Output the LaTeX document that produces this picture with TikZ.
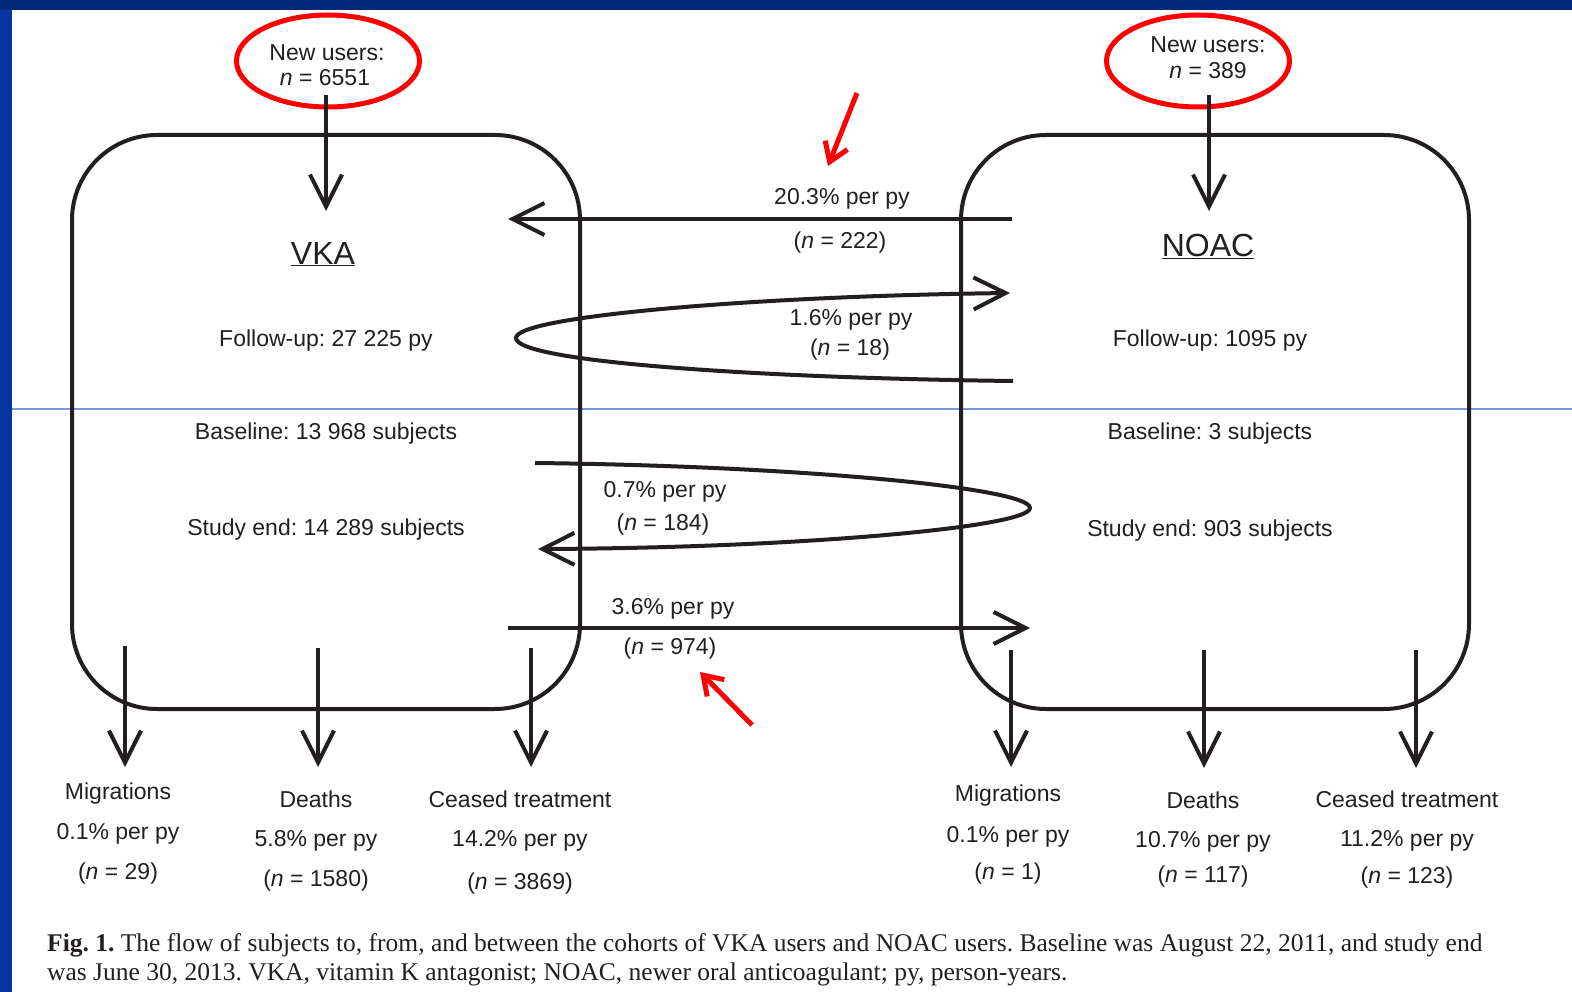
\documentclass[tikz,border=0pt]{standalone}
\usepackage{fontspec}
\setmainfont{Liberation Sans}
\newfontfamily\capfont{Liberation Serif}
\usetikzlibrary{arrows.meta,shapes.geometric}
\definecolor{ink}{HTML}{231F20}
\definecolor{frametop}{HTML}{00297A}
\definecolor{frameleft}{HTML}{0536A0}
\definecolor{ruleblue}{HTML}{7A9AE0}
\definecolor{annot}{HTML}{FF0000}
\begin{document}
\frenchspacing
\begin{tikzpicture}[x=1pt,y=-1pt,
  txt/.style={font=\fontsize{23}{27}\selectfont, text=ink, inner sep=0pt, yshift=-3pt},
  big/.style={font=\fontsize{32}{36}\selectfont, text=ink, inner sep=0pt, yshift=-2pt},
  cohort/.style={draw=ink, line width=4pt, rounded corners=85pt, minimum width=508pt, minimum height=574pt, inner sep=0pt},
  newusers/.style={ellipse, draw=annot, line width=5pt, minimum width=183pt, minimum height=92pt, inner sep=0pt},
  flow/.style={draw=ink, line width=4pt, -{Straight Barb[length=32pt,width=32pt]}},
  redmark/.style={draw=annot, line width=5pt, -{Straight Barb[length=18pt,width=24pt]}},
  caption/.style={font=\capfont\fontsize{25.5}{29}\selectfont, text=ink, inner sep=0pt, anchor=base west}
]
\useasboundingbox (0,0) rectangle (1572,992);
\fill[white] (0,0) rectangle (1572,992);
% frame
\fill[frameleft] (0,0) rectangle (12,992);
\fill[frametop] (0,0) rectangle (1572,10);
\draw[ruleblue, line width=1.3pt] (12,409) -- (1572,409);

% cohort boxes
\node[cohort] (vka) at (326,422) {};
\node[cohort] (noac) at (1215,422) {};

% new users
\node[newusers] (nu1) at (328,61) {};
\node[newusers] (nu2) at (1198,61) {};
\node[txt] (nu1a) at (327,50) {New users:};
\node[txt] (nu1b) at (325,75) {\textit{n} = 6551};
\node[txt] (nu2a) at (1208,42) {New users:};
\node[txt] (nu2b) at (1208,68) {\textit{n} = 389};

\coordinate (in1s) at (326,95);
\coordinate (in1e) at (326,211);
\coordinate (in2s) at (1209,95);
\coordinate (in2e) at (1209,211);
\draw[flow] (in1s) -- (in1e);
\draw[flow] (in2s) -- (in2e);

% box texts
\node[big] (vkat) at (323,252) {\underline{VKA}};
\node[txt] (vkaf) at (326,338) {Follow-up: 27 225 py};
\node[txt] (vkab) at (326,431) {Baseline: 13 968 subjects};
\node[txt] (vkae) at (326,527) {Study end: 14 289 subjects};
\node[big] (noact) at (1208,244) {\underline{NOAC}};
\node[txt] (noacf) at (1210,338) {Follow-up: 1095 py};
\node[txt] (noacb) at (1210,431) {Baseline: 3 subjects};
\node[txt] (noace) at (1210,528) {Study end: 903 subjects};

% switching flows
\coordinate (f1s) at (1012,219);
\coordinate (f1e) at (508,219);
\draw[flow] (f1s) -- (f1e);
\node[txt] (f1a) at (842,196) {20.3\% per py};
\node[txt] (f1b) at (840,240) {(\textit{n} = 222)};

\coordinate (f2s) at (1013,381);
\coordinate (f2m) at (516,338);
\coordinate (f2e) at (1010,293);
\draw[flow] (f2s) .. controls (760,378) and (516,362) .. (f2m) .. controls (516,316) and (760,296) .. (f2e);
\node[txt] (f2a) at (851,317) {1.6\% per py};
\node[txt] (f2b) at (850,347) {(\textit{n} = 18)};

\coordinate (f3s) at (535,463);
\coordinate (f3m) at (1030,508);
\coordinate (f3e) at (538,549);
\draw[flow] (f3s) .. controls (800,466) and (1030,488) .. (f3m) .. controls (1030,527) and (800,548) .. (f3e);
\node[txt] (f3a) at (665,489) {0.7\% per py};
\node[txt] (f3b) at (663,522) {(\textit{n} = 184)};

\coordinate (f4s) at (508,628);
\coordinate (f4e) at (1030,628);
\draw[flow] (f4s) -- (f4e);
\node[txt] (f4a) at (673,606) {3.6\% per py};
\node[txt] (f4b) at (670,646) {(\textit{n} = 974)};

% outflows VKA
\coordinate (o1s) at (125,646); \coordinate (o1e) at (125,767);
\coordinate (o2s) at (318,648); \coordinate (o2e) at (318,767);
\coordinate (o3s) at (531,648); \coordinate (o3e) at (531,767);
\draw[flow] (o1s) -- (o1e);
\draw[flow] (o2s) -- (o2e);
\draw[flow] (o3s) -- (o3e);
\node[txt] (m1a) at (118,791) {Migrations};
\node[txt] (m1b) at (118,831) {0.1\% per py};
\node[txt] (m1c) at (118,871) {(\textit{n} = 29)};
\node[txt] (d1a) at (316,796) {Deaths};
\node[txt] (d1b) at (316,838) {5.8\% per py};
\node[txt] (d1c) at (316,878) {(\textit{n} = 1580)};
\node[txt] (c1a) at (520,796) {Ceased treatment};
\node[txt] (c1b) at (520,838) {14.2\% per py};
\node[txt] (c1c) at (520,881) {(\textit{n} = 3869)};

% outflows NOAC
\coordinate (o4s) at (1011,650); \coordinate (o4e) at (1011,767);
\coordinate (o5s) at (1204,650); \coordinate (o5e) at (1204,768);
\coordinate (o6s) at (1416,650); \coordinate (o6e) at (1416,768);
\draw[flow] (o4s) -- (o4e);
\draw[flow] (o5s) -- (o5e);
\draw[flow] (o6s) -- (o6e);
\node[txt] (m2a) at (1008,793) {Migrations};
\node[txt] (m2b) at (1008,834) {0.1\% per py};
\node[txt] (m2c) at (1008,871) {(\textit{n} = 1)};
\node[txt] (d2a) at (1203,797) {Deaths};
\node[txt] (d2b) at (1203,839) {10.7\% per py};
\node[txt] (d2c) at (1203,874) {(\textit{n} = 117)};
\node[txt] (c2a) at (1407,796) {Ceased treatment};
\node[txt] (c2b) at (1407,838) {11.2\% per py};
\node[txt] (c2c) at (1407,875) {(\textit{n} = 123)};

% red marks
\coordinate (r1s) at (857,93); \coordinate (r1e) at (828,166);
\coordinate (r2s) at (752,725); \coordinate (r2e) at (700,672);
\draw[redmark] (r1s) -- (r1e);
\draw[redmark] (r2s) -- (r2e);

% caption
\node[caption] (cap1) at (47,951) {\textbf{Fig. 1.}\ The flow of subjects to, from, and between the cohorts of VKA users and NOAC users. Baseline was August 22, 2011, and study end};
\node[caption] (cap2) at (47,980) {was June 30, 2013. VKA, vitamin K antagonist; NOAC, newer oral anticoagulant; py, person-years.};
\end{tikzpicture}
\end{document}
